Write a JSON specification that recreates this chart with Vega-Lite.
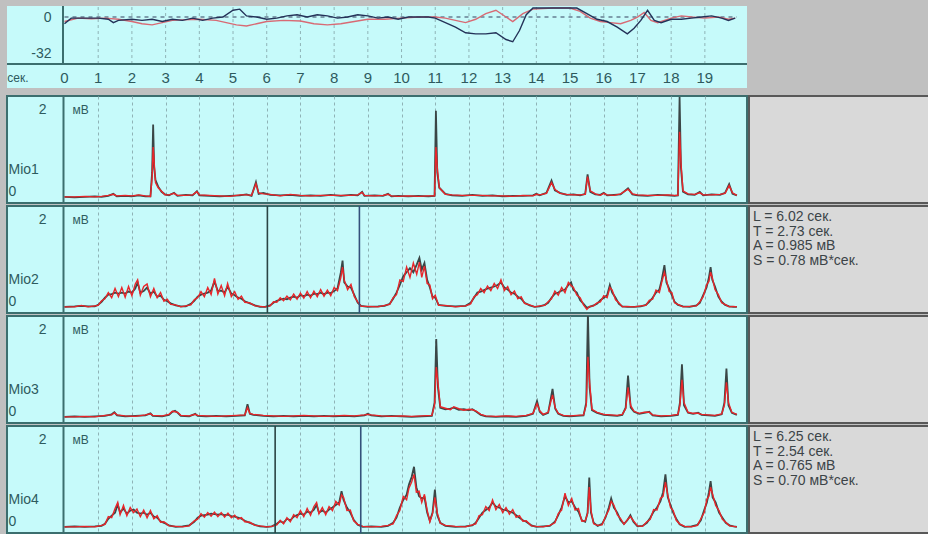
{
  "$schema": "https://vega.github.io/schema/vega-lite/v6.json",
  "background": "#c0c0c0",
  "padding": {"left": 6, "top": 5, "right": 0, "bottom": 2},
  "spacing": 7,
  "config": {
    "view": {"stroke": null},
    "axis": {"labelFont": "Liberation Sans Narrow, Liberation Sans, Arial, sans-serif", "titleFont": "Liberation Sans Narrow, Liberation Sans, Arial, sans-serif", "labelOverlap": false}
  },
  "datasets": {
    "sec": [{"s":1},{"s":2},{"s":3},{"s":4},{"s":5},{"s":6},{"s":7},{"s":8},{"s":9},{"s":10},{"s":11},{"s":12},{"s":13},{"s":14},{"s":15},{"s":16},{"s":17},{"s":18},{"s":19}],
    "ticklab": [{"s":0},{"s":1},{"s":2},{"s":3},{"s":4},{"s":5},{"s":6},{"s":7},{"s":8},{"s":9},{"s":10},{"s":11},{"s":12},{"s":13},{"s":14},{"s":15},{"s":16},{"s":17},{"s":18},{"s":19}],
    "ta": [{"t":0,"v":-4},{"t":0.4,"v":-1},{"t":0.8,"v":-1.5},{"t":1.2,"v":-1},{"t":1.6,"v":-2},{"t":2.0,"v":-4},{"t":2.3,"v":-6},{"t":2.6,"v":-7},{"t":2.9,"v":-5},{"t":3.2,"v":-3},{"t":3.5,"v":-2.5},{"t":4.0,"v":-2},{"t":4.5,"v":-3},{"t":4.8,"v":-5},{"t":5.1,"v":-7},{"t":5.4,"v":-8},{"t":5.7,"v":-6},{"t":6.0,"v":-4},{"t":6.5,"v":-3},{"t":7.0,"v":-3.5},{"t":7.4,"v":-6},{"t":7.8,"v":-7},{"t":8.2,"v":-6},{"t":8.6,"v":-4},{"t":9.0,"v":-2},{"t":9.5,"v":-2},{"t":10.0,"v":-1},{"t":10.5,"v":0},{"t":11.0,"v":0},{"t":11.3,"v":-1},{"t":11.6,"v":-3},{"t":11.9,"v":-5},{"t":12.2,"v":-2},{"t":12.5,"v":3},{"t":12.8,"v":6},{"t":13.1,"v":0},{"t":13.3,"v":-4},{"t":13.6,"v":3},{"t":13.9,"v":7},{"t":14.5,"v":8},{"t":15.0,"v":8},{"t":15.3,"v":5},{"t":15.6,"v":-1},{"t":15.9,"v":-4},{"t":16.2,"v":-5},{"t":16.5,"v":-6},{"t":16.8,"v":-3},{"t":17.0,"v":0},{"t":17.2,"v":4},{"t":17.4,"v":-3},{"t":17.6,"v":-5},{"t":18.0,"v":-1},{"t":18.3,"v":1},{"t":18.6,"v":0},{"t":19.0,"v":-1},{"t":19.4,"v":0},{"t":19.7,"v":-2},{"t":19.9,"v":-1}],
    "tb": [{"t":0,"v":-6},{"t":0.2,"v":-1},{"t":0.5,"v":-1},{"t":1.0,"v":-1},{"t":1.3,"v":-2},{"t":1.45,"v":-5},{"t":1.6,"v":-3},{"t":2.0,"v":-2},{"t":2.3,"v":-3},{"t":2.6,"v":-2},{"t":2.9,"v":-4},{"t":3.2,"v":-2},{"t":3.5,"v":-3},{"t":3.8,"v":-1},{"t":4.1,"v":-3},{"t":4.4,"v":-1},{"t":4.7,"v":0},{"t":5.0,"v":6},{"t":5.2,"v":7},{"t":5.4,"v":1},{"t":5.7,"v":0},{"t":6.0,"v":-2},{"t":6.3,"v":-1},{"t":6.6,"v":1},{"t":6.9,"v":2},{"t":7.2,"v":0},{"t":7.5,"v":2},{"t":7.8,"v":1},{"t":8.1,"v":-1},{"t":8.4,"v":0},{"t":8.7,"v":2},{"t":9.0,"v":1},{"t":9.3,"v":-1},{"t":9.6,"v":0},{"t":9.9,"v":-2},{"t":10.2,"v":0},{"t":10.5,"v":0},{"t":10.8,"v":0},{"t":11.0,"v":-1},{"t":11.3,"v":-5},{"t":11.6,"v":-9},{"t":11.9,"v":-14},{"t":12.2,"v":-15},{"t":12.5,"v":-15},{"t":12.8,"v":-14},{"t":13.1,"v":-20},{"t":13.3,"v":-22},{"t":13.5,"v":-12},{"t":13.7,"v":2},{"t":13.9,"v":8},{"t":14.3,"v":8},{"t":14.8,"v":8},{"t":15.2,"v":8},{"t":15.5,"v":3},{"t":15.8,"v":-2},{"t":16.1,"v":-4},{"t":16.4,"v":-9},{"t":16.7,"v":-15},{"t":16.9,"v":-10},{"t":17.1,"v":-3},{"t":17.3,"v":6},{"t":17.5,"v":-3},{"t":17.7,"v":-5},{"t":18.0,"v":-2},{"t":18.3,"v":-2},{"t":18.6,"v":-1},{"t":18.9,"v":0},{"t":19.2,"v":1},{"t":19.5,"v":-1},{"t":19.7,"v":-3},{"t":19.9,"v":-1}],
    "m1": [{"t":0,"k":0.02,"r":0.02},{"t":0.3,"k":0.01,"r":0.02},{"t":0.6,"k":0.02,"r":0.03},{"t":0.9,"k":0.03,"r":0.02},{"t":1.1,"k":0.02,"r":0.03},{"t":1.3,"k":0.04,"r":0.05},{"t":1.45,"k":0.08,"r":0.07},{"t":1.55,"k":0.03,"r":0.04},{"t":1.8,"k":0.04,"r":0.05},{"t":2.0,"k":0.03,"r":0.04},{"t":2.2,"k":0.05,"r":0.06},{"t":2.4,"k":0.03,"r":0.04},{"t":2.55,"k":0.03,"r":0.03},{"t":2.6,"k":0.5,"r":0.4},{"t":2.63,"k":1.44,"r":1.0},{"t":2.66,"k":0.6,"r":0.7},{"t":2.7,"k":0.35,"r":0.3},{"t":2.78,"k":0.22,"r":0.2},{"t":2.88,"k":0.12,"r":0.13},{"t":2.98,"k":0.07,"r":0.06},{"t":3.1,"k":0.05,"r":0.06},{"t":3.25,"k":0.1,"r":0.09},{"t":3.35,"k":0.04,"r":0.05},{"t":3.6,"k":0.06,"r":0.05},{"t":3.8,"k":0.05,"r":0.06},{"t":3.93,"k":0.13,"r":0.12},{"t":4.0,"k":0.05,"r":0.06},{"t":4.3,"k":0.04,"r":0.05},{"t":4.6,"k":0.03,"r":0.04},{"t":4.9,"k":0.04,"r":0.03},{"t":5.2,"k":0.05,"r":0.06},{"t":5.4,"k":0.07,"r":0.06},{"t":5.55,"k":0.04,"r":0.05},{"t":5.68,"k":0.31,"r":0.28},{"t":5.76,"k":0.08,"r":0.1},{"t":5.9,"k":0.1,"r":0.08},{"t":6.1,"k":0.06,"r":0.07},{"t":6.4,"k":0.05,"r":0.04},{"t":6.7,"k":0.06,"r":0.07},{"t":7.0,"k":0.04,"r":0.05},{"t":7.3,"k":0.05,"r":0.04},{"t":7.6,"k":0.04,"r":0.05},{"t":7.9,"k":0.06,"r":0.05},{"t":8.2,"k":0.04,"r":0.05},{"t":8.5,"k":0.06,"r":0.05},{"t":8.7,"k":0.05,"r":0.06},{"t":8.83,"k":0.12,"r":0.11},{"t":8.9,"k":0.04,"r":0.05},{"t":9.2,"k":0.05,"r":0.04},{"t":9.45,"k":0.04,"r":0.05},{"t":9.6,"k":0.08,"r":0.07},{"t":9.7,"k":0.03,"r":0.04},{"t":9.9,"k":0.04,"r":0.03},{"t":10.2,"k":0.03,"r":0.04},{"t":10.5,"k":0.04,"r":0.03},{"t":10.8,"k":0.03,"r":0.04},{"t":10.98,"k":0.04,"r":0.04},{"t":11.02,"k":1.71,"r":1.0},{"t":11.06,"k":0.5,"r":0.6},{"t":11.12,"k":0.2,"r":0.2},{"t":11.3,"k":0.08,"r":0.07},{"t":11.5,"k":0.05,"r":0.06},{"t":11.8,"k":0.04,"r":0.05},{"t":12.1,"k":0.06,"r":0.05},{"t":12.4,"k":0.04,"r":0.05},{"t":12.7,"k":0.05,"r":0.04},{"t":13.0,"k":0.03,"r":0.04},{"t":13.3,"k":0.04,"r":0.03},{"t":13.6,"k":0.04,"r":0.05},{"t":13.9,"k":0.05,"r":0.04},{"t":14.0,"k":0.08,"r":0.07},{"t":14.1,"k":0.05,"r":0.06},{"t":14.3,"k":0.1,"r":0.09},{"t":14.45,"k":0.34,"r":0.3},{"t":14.55,"k":0.15,"r":0.17},{"t":14.7,"k":0.1,"r":0.09},{"t":14.9,"k":0.06,"r":0.07},{"t":15.1,"k":0.07,"r":0.06},{"t":15.3,"k":0.05,"r":0.06},{"t":15.45,"k":0.08,"r":0.07},{"t":15.52,"k":0.46,"r":0.42},{"t":15.6,"k":0.12,"r":0.14},{"t":15.75,"k":0.07,"r":0.08},{"t":15.9,"k":0.06,"r":0.05},{"t":16.0,"k":0.1,"r":0.09},{"t":16.1,"k":0.05,"r":0.06},{"t":16.3,"k":0.06,"r":0.05},{"t":16.5,"k":0.07,"r":0.08},{"t":16.72,"k":0.19,"r":0.17},{"t":16.85,"k":0.07,"r":0.08},{"t":17.0,"k":0.05,"r":0.06},{"t":17.3,"k":0.04,"r":0.05},{"t":17.6,"k":0.06,"r":0.05},{"t":17.9,"k":0.05,"r":0.06},{"t":18.1,"k":0.04,"r":0.05},{"t":18.2,"k":0.05,"r":0.05},{"t":18.25,"k":1.98,"r":1.3},{"t":18.29,"k":0.6,"r":0.7},{"t":18.35,"k":0.12,"r":0.14},{"t":18.5,"k":0.07,"r":0.08},{"t":18.7,"k":0.06,"r":0.07},{"t":18.85,"k":0.12,"r":0.1},{"t":18.95,"k":0.05,"r":0.06},{"t":19.2,"k":0.07,"r":0.06},{"t":19.45,"k":0.06,"r":0.07},{"t":19.6,"k":0.1,"r":0.09},{"t":19.72,"k":0.27,"r":0.24},{"t":19.82,"k":0.08,"r":0.1},{"t":19.95,"k":0.05,"r":0.05}],
    "m2": [{"t":0,"k":0.02,"r":0.02},{"t":0.3,"k":0.03,"r":0.02},{"t":0.5,"k":0.04,"r":0.05},{"t":0.7,"k":0.03,"r":0.02},{"t":0.9,"k":0.03,"r":0.04},{"t":1.0,"k":0.06,"r":0.05},{"t":1.1,"k":0.12,"r":0.14},{"t":1.2,"k":0.2,"r":0.18},{"t":1.3,"k":0.26,"r":0.3},{"t":1.4,"k":0.27,"r":0.2},{"t":1.5,"k":0.3,"r":0.38},{"t":1.6,"k":0.28,"r":0.22},{"t":1.7,"k":0.3,"r":0.4},{"t":1.8,"k":0.28,"r":0.21},{"t":1.9,"k":0.32,"r":0.42},{"t":2.0,"k":0.3,"r":0.24},{"t":2.1,"k":0.38,"r":0.47},{"t":2.17,"k":0.5,"r":0.55},{"t":2.25,"k":0.3,"r":0.25},{"t":2.35,"k":0.33,"r":0.42},{"t":2.45,"k":0.4,"r":0.47},{"t":2.55,"k":0.28,"r":0.22},{"t":2.65,"k":0.32,"r":0.38},{"t":2.75,"k":0.22,"r":0.2},{"t":2.85,"k":0.24,"r":0.3},{"t":2.95,"k":0.16,"r":0.13},{"t":3.05,"k":0.13,"r":0.17},{"t":3.15,"k":0.09,"r":0.07},{"t":3.3,"k":0.05,"r":0.06},{"t":3.45,"k":0.03,"r":0.02},{"t":3.6,"k":0.03,"r":0.04},{"t":3.75,"k":0.08,"r":0.06},{"t":3.85,"k":0.14,"r":0.16},{"t":3.95,"k":0.22,"r":0.2},{"t":4.05,"k":0.26,"r":0.32},{"t":4.15,"k":0.28,"r":0.22},{"t":4.25,"k":0.3,"r":0.4},{"t":4.35,"k":0.34,"r":0.26},{"t":4.45,"k":0.52,"r":0.58},{"t":4.55,"k":0.33,"r":0.27},{"t":4.65,"k":0.34,"r":0.44},{"t":4.75,"k":0.3,"r":0.24},{"t":4.84,"k":0.42,"r":0.48},{"t":4.95,"k":0.28,"r":0.22},{"t":5.05,"k":0.25,"r":0.32},{"t":5.15,"k":0.2,"r":0.17},{"t":5.25,"k":0.18,"r":0.23},{"t":5.35,"k":0.13,"r":0.11},{"t":5.5,"k":0.09,"r":0.1},{"t":5.65,"k":0.05,"r":0.04},{"t":5.8,"k":0.02,"r":0.03},{"t":5.95,"k":0.02,"r":0.02},{"t":6.1,"k":0.05,"r":0.04},{"t":6.2,"k":0.1,"r":0.12},{"t":6.3,"k":0.14,"r":0.11},{"t":6.4,"k":0.16,"r":0.2},{"t":6.5,"k":0.18,"r":0.14},{"t":6.6,"k":0.17,"r":0.23},{"t":6.7,"k":0.2,"r":0.16},{"t":6.8,"k":0.22,"r":0.27},{"t":6.9,"k":0.2,"r":0.17},{"t":7.0,"k":0.25,"r":0.29},{"t":7.1,"k":0.23,"r":0.19},{"t":7.2,"k":0.26,"r":0.32},{"t":7.3,"k":0.24,"r":0.2},{"t":7.4,"k":0.28,"r":0.33},{"t":7.5,"k":0.27,"r":0.22},{"t":7.6,"k":0.3,"r":0.36},{"t":7.7,"k":0.27,"r":0.23},{"t":7.8,"k":0.3,"r":0.35},{"t":7.9,"k":0.29,"r":0.24},{"t":8.0,"k":0.33,"r":0.4},{"t":8.1,"k":0.38,"r":0.34},{"t":8.2,"k":0.7,"r":0.6},{"t":8.25,"k":0.93,"r":0.8},{"t":8.3,"k":0.5,"r":0.55},{"t":8.4,"k":0.42,"r":0.36},{"t":8.5,"k":0.4,"r":0.46},{"t":8.6,"k":0.25,"r":0.22},{"t":8.7,"k":0.1,"r":0.12},{"t":8.8,"k":0.04,"r":0.03},{"t":9.0,"k":0.02,"r":0.03},{"t":9.3,"k":0.03,"r":0.02},{"t":9.5,"k":0.04,"r":0.05},{"t":9.65,"k":0.08,"r":0.07},{"t":9.75,"k":0.18,"r":0.2},{"t":9.85,"k":0.3,"r":0.26},{"t":9.95,"k":0.45,"r":0.55},{"t":10.05,"k":0.62,"r":0.52},{"t":10.15,"k":0.7,"r":0.8},{"t":10.25,"k":0.78,"r":0.6},{"t":10.35,"k":0.7,"r":0.88},{"t":10.45,"k":0.85,"r":0.66},{"t":10.53,"k":0.98,"r":0.9},{"t":10.6,"k":0.75,"r":0.6},{"t":10.68,"k":0.88,"r":0.82},{"t":10.76,"k":0.55,"r":0.48},{"t":10.84,"k":0.4,"r":0.45},{"t":10.92,"k":0.22,"r":0.18},{"t":11.0,"k":0.2,"r":0.25},{"t":11.1,"k":0.06,"r":0.05},{"t":11.3,"k":0.04,"r":0.05},{"t":11.6,"k":0.03,"r":0.02},{"t":11.9,"k":0.04,"r":0.04},{"t":12.05,"k":0.1,"r":0.08},{"t":12.15,"k":0.2,"r":0.22},{"t":12.25,"k":0.3,"r":0.26},{"t":12.35,"k":0.32,"r":0.38},{"t":12.45,"k":0.35,"r":0.3},{"t":12.55,"k":0.38,"r":0.43},{"t":12.65,"k":0.4,"r":0.34},{"t":12.75,"k":0.42,"r":0.48},{"t":12.85,"k":0.45,"r":0.38},{"t":12.95,"k":0.5,"r":0.55},{"t":13.05,"k":0.4,"r":0.34},{"t":13.15,"k":0.36,"r":0.42},{"t":13.25,"k":0.3,"r":0.26},{"t":13.35,"k":0.28,"r":0.33},{"t":13.45,"k":0.22,"r":0.18},{"t":13.55,"k":0.18,"r":0.22},{"t":13.65,"k":0.1,"r":0.09},{"t":13.8,"k":0.05,"r":0.06},{"t":13.95,"k":0.02,"r":0.02},{"t":14.1,"k":0.03,"r":0.04},{"t":14.25,"k":0.06,"r":0.05},{"t":14.35,"k":0.1,"r":0.12},{"t":14.45,"k":0.2,"r":0.18},{"t":14.55,"k":0.28,"r":0.33},{"t":14.65,"k":0.3,"r":0.25},{"t":14.75,"k":0.34,"r":0.4},{"t":14.85,"k":0.36,"r":0.3},{"t":14.95,"k":0.45,"r":0.5},{"t":15.03,"k":0.5,"r":0.44},{"t":15.1,"k":0.35,"r":0.4},{"t":15.2,"k":0.3,"r":0.25},{"t":15.3,"k":0.15,"r":0.2},{"t":15.4,"k":0.08,"r":0.06},{"t":15.5,"k":0.0,"r":-0.03},{"t":15.58,"k":0.02,"r":0.03},{"t":15.7,"k":0.05,"r":0.04},{"t":15.8,"k":0.08,"r":0.1},{"t":15.9,"k":0.15,"r":0.12},{"t":16.0,"k":0.2,"r":0.24},{"t":16.1,"k":0.25,"r":0.2},{"t":16.18,"k":0.45,"r":0.4},{"t":16.25,"k":0.3,"r":0.35},{"t":16.35,"k":0.2,"r":0.16},{"t":16.45,"k":0.08,"r":0.1},{"t":16.55,"k":0.03,"r":0.02},{"t":16.7,"k":0.02,"r":0.03},{"t":16.9,"k":0.02,"r":0.02},{"t":17.1,"k":0.03,"r":0.04},{"t":17.25,"k":0.06,"r":0.05},{"t":17.35,"k":0.12,"r":0.15},{"t":17.45,"k":0.2,"r":0.17},{"t":17.55,"k":0.3,"r":0.35},{"t":17.65,"k":0.36,"r":0.3},{"t":17.72,"k":0.55,"r":0.5},{"t":17.8,"k":0.84,"r":0.7},{"t":17.86,"k":0.5,"r":0.55},{"t":17.94,"k":0.38,"r":0.32},{"t":18.02,"k":0.25,"r":0.3},{"t":18.1,"k":0.12,"r":0.1},{"t":18.2,"k":0.06,"r":0.07},{"t":18.35,"k":0.03,"r":0.02},{"t":18.55,"k":0.02,"r":0.03},{"t":18.75,"k":0.05,"r":0.04},{"t":18.85,"k":0.1,"r":0.12},{"t":18.95,"k":0.25,"r":0.22},{"t":19.05,"k":0.4,"r":0.45},{"t":19.12,"k":0.6,"r":0.52},{"t":19.17,"k":0.8,"r":0.7},{"t":19.22,"k":0.55,"r":0.6},{"t":19.3,"k":0.42,"r":0.36},{"t":19.4,"k":0.22,"r":0.26},{"t":19.5,"k":0.12,"r":0.1},{"t":19.6,"k":0.06,"r":0.07},{"t":19.72,"k":0.03,"r":0.02},{"t":19.85,"k":0.02,"r":0.03},{"t":19.95,"k":0.02,"r":0.02}],
    "m3": [{"t":0,"k":0.02,"r":0.02},{"t":0.3,"k":0.03,"r":0.02},{"t":0.6,"k":0.02,"r":0.03},{"t":0.9,"k":0.03,"r":0.02},{"t":1.2,"k":0.04,"r":0.05},{"t":1.4,"k":0.07,"r":0.06},{"t":1.48,"k":0.11,"r":0.1},{"t":1.56,"k":0.05,"r":0.06},{"t":1.8,"k":0.03,"r":0.04},{"t":2.1,"k":0.04,"r":0.03},{"t":2.4,"k":0.05,"r":0.06},{"t":2.55,"k":0.09,"r":0.08},{"t":2.62,"k":0.04,"r":0.05},{"t":2.9,"k":0.03,"r":0.04},{"t":3.1,"k":0.06,"r":0.07},{"t":3.2,"k":0.12,"r":0.13},{"t":3.28,"k":0.14,"r":0.12},{"t":3.36,"k":0.1,"r":0.11},{"t":3.45,"k":0.04,"r":0.05},{"t":3.7,"k":0.03,"r":0.04},{"t":3.88,"k":0.08,"r":0.07},{"t":3.95,"k":0.04,"r":0.05},{"t":4.2,"k":0.03,"r":0.04},{"t":4.5,"k":0.04,"r":0.03},{"t":4.8,"k":0.03,"r":0.04},{"t":5.1,"k":0.04,"r":0.05},{"t":5.35,"k":0.05,"r":0.06},{"t":5.43,"k":0.27,"r":0.2},{"t":5.5,"k":0.08,"r":0.09},{"t":5.6,"k":0.06,"r":0.07},{"t":5.9,"k":0.04,"r":0.05},{"t":6.2,"k":0.03,"r":0.04},{"t":6.5,"k":0.04,"r":0.03},{"t":6.8,"k":0.03,"r":0.04},{"t":7.1,"k":0.04,"r":0.05},{"t":7.4,"k":0.03,"r":0.04},{"t":7.7,"k":0.04,"r":0.03},{"t":8.0,"k":0.03,"r":0.04},{"t":8.3,"k":0.04,"r":0.05},{"t":8.6,"k":0.03,"r":0.04},{"t":8.9,"k":0.05,"r":0.06},{"t":9.0,"k":0.08,"r":0.07},{"t":9.1,"k":0.05,"r":0.06},{"t":9.4,"k":0.03,"r":0.04},{"t":9.7,"k":0.04,"r":0.03},{"t":10.0,"k":0.03,"r":0.04},{"t":10.3,"k":0.02,"r":0.03},{"t":10.6,"k":0.03,"r":0.04},{"t":10.9,"k":0.04,"r":0.05},{"t":10.98,"k":0.3,"r":0.25},{"t":11.03,"k":1.55,"r":1.0},{"t":11.08,"k":0.6,"r":0.7},{"t":11.15,"k":0.2,"r":0.22},{"t":11.3,"k":0.17,"r":0.19},{"t":11.45,"k":0.18,"r":0.16},{"t":11.55,"k":0.2,"r":0.22},{"t":11.7,"k":0.16,"r":0.18},{"t":11.85,"k":0.17,"r":0.15},{"t":12.0,"k":0.15,"r":0.17},{"t":12.1,"k":0.17,"r":0.16},{"t":12.2,"k":0.13,"r":0.14},{"t":12.35,"k":0.06,"r":0.07},{"t":12.5,"k":0.03,"r":0.04},{"t":12.8,"k":0.02,"r":0.03},{"t":13.1,"k":0.03,"r":0.04},{"t":13.4,"k":0.02,"r":0.03},{"t":13.7,"k":0.04,"r":0.05},{"t":13.9,"k":0.08,"r":0.09},{"t":14.02,"k":0.33,"r":0.28},{"t":14.1,"k":0.12,"r":0.14},{"t":14.2,"k":0.06,"r":0.07},{"t":14.35,"k":0.1,"r":0.11},{"t":14.48,"k":0.57,"r":0.45},{"t":14.56,"k":0.18,"r":0.2},{"t":14.65,"k":0.08,"r":0.09},{"t":14.8,"k":0.04,"r":0.05},{"t":15.0,"k":0.03,"r":0.04},{"t":15.2,"k":0.04,"r":0.05},{"t":15.4,"k":0.05,"r":0.06},{"t":15.48,"k":0.3,"r":0.25},{"t":15.53,"k":2.05,"r":1.2},{"t":15.58,"k":0.6,"r":0.7},{"t":15.65,"k":0.15,"r":0.17},{"t":15.8,"k":0.1,"r":0.11},{"t":16.0,"k":0.06,"r":0.07},{"t":16.2,"k":0.05,"r":0.06},{"t":16.4,"k":0.04,"r":0.05},{"t":16.55,"k":0.06,"r":0.07},{"t":16.65,"k":0.2,"r":0.18},{"t":16.72,"k":0.83,"r":0.6},{"t":16.8,"k":0.2,"r":0.24},{"t":16.9,"k":0.12,"r":0.13},{"t":17.05,"k":0.08,"r":0.09},{"t":17.2,"k":0.1,"r":0.11},{"t":17.35,"k":0.12,"r":0.11},{"t":17.45,"k":0.05,"r":0.06},{"t":17.7,"k":0.03,"r":0.04},{"t":18.0,"k":0.04,"r":0.05},{"t":18.2,"k":0.06,"r":0.07},{"t":18.26,"k":0.3,"r":0.25},{"t":18.32,"k":1.05,"r":0.75},{"t":18.38,"k":0.25,"r":0.3},{"t":18.5,"k":0.1,"r":0.11},{"t":18.65,"k":0.08,"r":0.09},{"t":18.8,"k":0.1,"r":0.09},{"t":18.9,"k":0.06,"r":0.07},{"t":19.1,"k":0.05,"r":0.06},{"t":19.3,"k":0.04,"r":0.05},{"t":19.5,"k":0.07,"r":0.08},{"t":19.58,"k":0.3,"r":0.25},{"t":19.64,"k":0.97,"r":0.7},{"t":19.7,"k":0.25,"r":0.3},{"t":19.8,"k":0.1,"r":0.11},{"t":19.95,"k":0.06,"r":0.07}],
    "m4": [{"t":0,"k":0.02,"r":0.02},{"t":0.3,"k":0.03,"r":0.02},{"t":0.6,"k":0.02,"r":0.03},{"t":0.9,"k":0.03,"r":0.02},{"t":1.1,"k":0.04,"r":0.05},{"t":1.2,"k":0.08,"r":0.07},{"t":1.3,"k":0.18,"r":0.22},{"t":1.4,"k":0.24,"r":0.2},{"t":1.5,"k":0.3,"r":0.38},{"t":1.58,"k":0.46,"r":0.5},{"t":1.65,"k":0.3,"r":0.26},{"t":1.75,"k":0.38,"r":0.44},{"t":1.85,"k":0.28,"r":0.24},{"t":1.95,"k":0.34,"r":0.4},{"t":2.05,"k":0.36,"r":0.3},{"t":2.15,"k":0.3,"r":0.37},{"t":2.25,"k":0.28,"r":0.22},{"t":2.35,"k":0.3,"r":0.35},{"t":2.45,"k":0.26,"r":0.2},{"t":2.55,"k":0.3,"r":0.34},{"t":2.65,"k":0.22,"r":0.18},{"t":2.75,"k":0.2,"r":0.24},{"t":2.85,"k":0.13,"r":0.11},{"t":2.95,"k":0.1,"r":0.12},{"t":3.1,"k":0.05,"r":0.04},{"t":3.3,"k":0.02,"r":0.03},{"t":3.5,"k":0.03,"r":0.02},{"t":3.7,"k":0.05,"r":0.04},{"t":3.85,"k":0.12,"r":0.14},{"t":3.95,"k":0.2,"r":0.17},{"t":4.05,"k":0.24,"r":0.28},{"t":4.15,"k":0.25,"r":0.21},{"t":4.25,"k":0.26,"r":0.3},{"t":4.35,"k":0.28,"r":0.23},{"t":4.45,"k":0.27,"r":0.31},{"t":4.55,"k":0.26,"r":0.22},{"t":4.65,"k":0.27,"r":0.3},{"t":4.75,"k":0.25,"r":0.21},{"t":4.85,"k":0.26,"r":0.29},{"t":4.95,"k":0.23,"r":0.2},{"t":5.05,"k":0.22,"r":0.25},{"t":5.15,"k":0.2,"r":0.17},{"t":5.25,"k":0.18,"r":0.2},{"t":5.35,"k":0.14,"r":0.12},{"t":5.5,"k":0.1,"r":0.11},{"t":5.65,"k":0.06,"r":0.05},{"t":5.8,"k":0.03,"r":0.04},{"t":6.0,"k":0.02,"r":0.02},{"t":6.15,"k":0.03,"r":0.03},{"t":6.3,"k":0.08,"r":0.06},{"t":6.4,"k":0.13,"r":0.15},{"t":6.5,"k":0.1,"r":0.08},{"t":6.6,"k":0.18,"r":0.2},{"t":6.7,"k":0.15,"r":0.12},{"t":6.8,"k":0.22,"r":0.26},{"t":6.9,"k":0.25,"r":0.2},{"t":7.0,"k":0.28,"r":0.34},{"t":7.1,"k":0.26,"r":0.22},{"t":7.2,"k":0.32,"r":0.38},{"t":7.3,"k":0.3,"r":0.25},{"t":7.4,"k":0.36,"r":0.42},{"t":7.48,"k":0.45,"r":0.5},{"t":7.55,"k":0.3,"r":0.28},{"t":7.65,"k":0.34,"r":0.4},{"t":7.75,"k":0.3,"r":0.26},{"t":7.85,"k":0.36,"r":0.42},{"t":7.95,"k":0.4,"r":0.34},{"t":8.05,"k":0.45,"r":0.52},{"t":8.15,"k":0.5,"r":0.45},{"t":8.22,"k":0.72,"r":0.65},{"t":8.28,"k":0.55,"r":0.6},{"t":8.38,"k":0.4,"r":0.34},{"t":8.48,"k":0.3,"r":0.35},{"t":8.58,"k":0.16,"r":0.14},{"t":8.7,"k":0.06,"r":0.07},{"t":8.85,"k":0.02,"r":0.03},{"t":9.1,"k":0.03,"r":0.02},{"t":9.4,"k":0.02,"r":0.03},{"t":9.6,"k":0.04,"r":0.05},{"t":9.75,"k":0.1,"r":0.08},{"t":9.85,"k":0.2,"r":0.24},{"t":9.95,"k":0.4,"r":0.34},{"t":10.05,"k":0.55,"r":0.62},{"t":10.15,"k":0.65,"r":0.55},{"t":10.22,"k":0.85,"r":0.78},{"t":10.3,"k":1.0,"r":0.9},{"t":10.37,"k":1.2,"r":1.05},{"t":10.44,"k":0.8,"r":0.7},{"t":10.52,"k":0.62,"r":0.72},{"t":10.6,"k":0.58,"r":0.5},{"t":10.68,"k":0.6,"r":0.66},{"t":10.76,"k":0.3,"r":0.35},{"t":10.84,"k":0.14,"r":0.12},{"t":10.92,"k":0.3,"r":0.28},{"t":10.99,"k":0.75,"r":0.6},{"t":11.06,"k":0.25,"r":0.3},{"t":11.15,"k":0.1,"r":0.09},{"t":11.3,"k":0.04,"r":0.05},{"t":11.6,"k":0.02,"r":0.03},{"t":11.9,"k":0.03,"r":0.02},{"t":12.1,"k":0.05,"r":0.06},{"t":12.2,"k":0.1,"r":0.08},{"t":12.3,"k":0.2,"r":0.24},{"t":12.4,"k":0.3,"r":0.26},{"t":12.5,"k":0.35,"r":0.42},{"t":12.6,"k":0.4,"r":0.34},{"t":12.7,"k":0.5,"r":0.55},{"t":12.8,"k":0.42,"r":0.36},{"t":12.9,"k":0.4,"r":0.46},{"t":13.0,"k":0.36,"r":0.3},{"t":13.1,"k":0.35,"r":0.4},{"t":13.2,"k":0.32,"r":0.27},{"t":13.3,"k":0.3,"r":0.36},{"t":13.4,"k":0.25,"r":0.21},{"t":13.5,"k":0.2,"r":0.24},{"t":13.6,"k":0.15,"r":0.13},{"t":13.7,"k":0.12,"r":0.14},{"t":13.85,"k":0.05,"r":0.04},{"t":14.0,"k":0.02,"r":0.03},{"t":14.2,"k":0.03,"r":0.02},{"t":14.4,"k":0.04,"r":0.05},{"t":14.55,"k":0.12,"r":0.1},{"t":14.65,"k":0.25,"r":0.28},{"t":14.75,"k":0.4,"r":0.35},{"t":14.85,"k":0.62,"r":0.68},{"t":14.95,"k":0.5,"r":0.44},{"t":15.05,"k":0.52,"r":0.58},{"t":15.15,"k":0.4,"r":0.35},{"t":15.25,"k":0.32,"r":0.38},{"t":15.35,"k":0.15,"r":0.13},{"t":15.45,"k":0.12,"r":0.14},{"t":15.52,"k":0.3,"r":0.28},{"t":15.57,"k":0.99,"r":0.8},{"t":15.62,"k":0.3,"r":0.35},{"t":15.7,"k":0.1,"r":0.08},{"t":15.82,"k":0.04,"r":0.05},{"t":15.95,"k":0.08,"r":0.06},{"t":16.05,"k":0.2,"r":0.22},{"t":16.15,"k":0.4,"r":0.35},{"t":16.22,"k":0.58,"r":0.52},{"t":16.3,"k":0.4,"r":0.45},{"t":16.4,"k":0.3,"r":0.26},{"t":16.5,"k":0.15,"r":0.18},{"t":16.6,"k":0.08,"r":0.07},{"t":16.7,"k":0.15,"r":0.16},{"t":16.79,"k":0.25,"r":0.22},{"t":16.88,"k":0.12,"r":0.14},{"t":17.0,"k":0.03,"r":0.04},{"t":17.15,"k":0.04,"r":0.03},{"t":17.28,"k":0.1,"r":0.12},{"t":17.38,"k":0.2,"r":0.17},{"t":17.48,"k":0.32,"r":0.36},{"t":17.58,"k":0.4,"r":0.35},{"t":17.68,"k":0.52,"r":0.58},{"t":17.76,"k":0.7,"r":0.62},{"t":17.83,"k":1.05,"r":0.9},{"t":17.9,"k":0.6,"r":0.65},{"t":17.98,"k":0.45,"r":0.4},{"t":18.06,"k":0.3,"r":0.34},{"t":18.15,"k":0.18,"r":0.15},{"t":18.25,"k":0.07,"r":0.08},{"t":18.4,"k":0.02,"r":0.03},{"t":18.6,"k":0.03,"r":0.02},{"t":18.78,"k":0.06,"r":0.05},{"t":18.88,"k":0.15,"r":0.18},{"t":18.98,"k":0.35,"r":0.3},{"t":19.06,"k":0.5,"r":0.56},{"t":19.12,"k":0.7,"r":0.62},{"t":19.17,"k":0.92,"r":0.8},{"t":19.23,"k":0.6,"r":0.66},{"t":19.32,"k":0.5,"r":0.44},{"t":19.42,"k":0.3,"r":0.34},{"t":19.52,"k":0.2,"r":0.17},{"t":19.62,"k":0.1,"r":0.11},{"t":19.73,"k":0.05,"r":0.04},{"t":19.85,"k":0.03,"r":0.03},{"t":19.95,"k":0.02,"r":0.02}]
  },
  "vconcat": [
    {
      "width": 740,
      "height": 82,
      "view": {"fill": "#c6fafa", "stroke": null},
      "layer": [
        {
          "data": {"name": "sec"},
          "mark": {"type": "rule", "color": "#8fb3b6", "strokeDash": [3, 3], "strokeWidth": 1},
          "encoding": {
            "x": {"field": "s", "type": "quantitative", "scale": {"domain": [-1.706, 20.25], "nice": false, "zero": false}, "axis": null},
            "y": {"datum": -41.8, "type": "quantitative", "scale": {"domain": [-63.1, 9.8], "nice": false, "zero": false}},
            "y2": {"datum": 9.8}
          }
        },
        {
          "data": {"values": [{}]},
          "mark": {"type": "rule", "color": "#3c6e6e", "strokeWidth": 2},
          "encoding": {"x": {"datum": -0.045, "type": "quantitative", "axis": null}, "y": {"datum": -41.8, "type": "quantitative"}, "y2": {"datum": 9.8}}
        },
        {
          "data": {"values": [{}]},
          "mark": {"type": "rule", "color": "#3c6e6e", "strokeWidth": 2},
          "encoding": {"y": {"datum": -41.8, "type": "quantitative"}}
        },
        {
          "data": {"values": [{}]},
          "mark": {"type": "rule", "color": "#34405e", "strokeDash": [4, 4], "strokeWidth": 1.2},
          "encoding": {"x": {"datum": 0, "type": "quantitative", "axis": null}, "x2": {"datum": 19.95}, "y": {"datum": 0, "type": "quantitative"}}
        },
        {
          "data": {"name": "ticklab"},
          "mark": {"type": "text", "align": "center", "baseline": "middle", "font": "Liberation Sans Narrow, Liberation Sans, Arial, sans-serif", "fontSize": 15, "color": "#2e5a5e"},
          "encoding": {"x": {"field": "s", "type": "quantitative", "axis": null}, "y": {"datum": -54.2, "type": "quantitative"}, "text": {"field": "s", "type": "quantitative"}}
        },
        {
          "data": {"values": [{"lab": "сек."}]},
          "mark": {"type": "text", "align": "center", "baseline": "middle", "font": "Liberation Sans Narrow, Liberation Sans, Arial, sans-serif", "fontSize": 12, "color": "#2e5a5e"},
          "encoding": {"x": {"datum": -1.38, "type": "quantitative", "axis": null}, "y": {"datum": -54.2, "type": "quantitative"}, "text": {"field": "lab"}}
        },
        {
          "data": {"name": "ta"},
          "mark": {"type": "line", "color": "#d86a74", "strokeWidth": 1.4, "clip": true},
          "encoding": {"x": {"field": "t", "type": "quantitative", "axis": null}, "y": {"field": "v", "type": "quantitative"}}
        },
        {
          "data": {"name": "tb"},
          "mark": {"type": "line", "color": "#243258", "strokeWidth": 1.4, "clip": true},
          "encoding": {
            "x": {"field": "t", "type": "quantitative", "axis": null},
            "y": {"field": "v", "type": "quantitative",
              "axis": {"offset": -56, "title": null, "values": [0, -32], "labelExpr": "datum.value < 0 ? '-' + abs(datum.value) : '' + datum.value",
                "domain": false, "ticks": false, "tickSize": 0, "grid": false, "labelAlign": "right", "labelPadding": 12, "labelBaseline": "middle",
                "labelFontSize": 14, "labelColor": "#2e5a5e", "labelOverlap": false}}
          }
        }
      ]
    },
    {
      "spacing": 0,
      "vconcat": [
        {
          "spacing": 2,
          "bounds": "flush",
          "hconcat": [
            {
              "width": 740, "height": 107,
              "view": {"fill": "#c6fafa", "stroke": "#3c6e6e", "strokeWidth": 2},
              "data": {"name": "m1"},
              "layer": [
                {
                  "mark": {"type": "line", "color": "#3a4646", "strokeWidth": 1.8, "clip": true},
                  "encoding": {
                    "x": {"field": "t", "type": "quantitative", "scale": {"domain": [-1.706, 20.25], "nice": false, "zero": false},
                      "axis": {"title": null, "values": [1,2,3,4,5,6,7,8,9,10,11,12,13,14,15,16,17,18,19], "grid": true, "gridColor": "#8fb3b6", "gridDash": [3, 3], "labels": false, "ticks": false, "domain": false}},
                    "y": {"field": "k", "type": "quantitative", "scale": {"domain": [-0.1, 2.0], "nice": false, "zero": false},
                      "axis": {"title": "мВ", "titleAngle": 0, "titleAlign": "left", "titleBaseline": "middle", "titleX": 9, "titleY": 13, "titleFontSize": 12, "titleFontWeight": "normal", "titleColor": "#2e5a5e",
                        "offset": -56, "domainColor": "#3c6e6e", "domainWidth": 2, "ticks": false, "tickSize": 0, "grid": false,
                        "values": [0.12, 0.56, 1.73], "labelExpr": "datum.value > 1 ? '2' : datum.value > 0.4 ? 'Mio1' : '0'",
                        "labelAlign": {"condition": {"test": "datum.value > 1", "value": "right"}, "value": "left"},
                        "labelPadding": {"condition": {"test": "datum.value > 1", "value": 17}, "value": 55},
                        "labelBaseline": "middle", "labelFontSize": 14, "labelColor": "#2e5a5e", "labelOverlap": false, "labelFlush": false}}
                  }
                },
                {
                  "mark": {"type": "line", "color": "#e8262a", "strokeWidth": 1.4, "clip": true},
                  "encoding": {"x": {"field": "t", "type": "quantitative"}, "y": {"field": "r", "type": "quantitative"}}
                }
              ]
            },
            {
              "width": 180, "height": 107,
              "view": {"fill": "#d9d9d9", "stroke": "#585858", "strokeWidth": 2},
              "data": {"values": []},
              "mark": "text"
            }
          ]
        },
        {
          "spacing": 2,
          "bounds": "flush",
          "hconcat": [
            {
              "width": 740, "height": 107,
              "view": {"fill": "#c6fafa", "stroke": "#3c6e6e", "strokeWidth": 2},
              "layer": [
                {
                  "data": {"name": "m2"},
                  "mark": {"type": "line", "color": "#3a4646", "strokeWidth": 1.8, "clip": true},
                  "encoding": {
                    "x": {"field": "t", "type": "quantitative", "scale": {"domain": [-1.706, 20.25], "nice": false, "zero": false},
                      "axis": {"title": null, "values": [1,2,3,4,5,6,7,8,9,10,11,12,13,14,15,16,17,18,19], "grid": true, "gridColor": "#8fb3b6", "gridDash": [3, 3], "labels": false, "ticks": false, "domain": false}},
                    "y": {"field": "k", "type": "quantitative", "scale": {"domain": [-0.1, 2.0], "nice": false, "zero": false},
                      "axis": {"title": "мВ", "titleAngle": 0, "titleAlign": "left", "titleBaseline": "middle", "titleX": 9, "titleY": 13, "titleFontSize": 12, "titleFontWeight": "normal", "titleColor": "#2e5a5e",
                        "offset": -56, "domainColor": "#3c6e6e", "domainWidth": 2, "ticks": false, "tickSize": 0, "grid": false,
                        "values": [0.12, 0.56, 1.73], "labelExpr": "datum.value > 1 ? '2' : datum.value > 0.4 ? 'Mio2' : '0'",
                        "labelAlign": {"condition": {"test": "datum.value > 1", "value": "right"}, "value": "left"},
                        "labelPadding": {"condition": {"test": "datum.value > 1", "value": 17}, "value": 55},
                        "labelBaseline": "middle", "labelFontSize": 14, "labelColor": "#2e5a5e", "labelOverlap": false, "labelFlush": false}}
                  }
                },
                {
                  "data": {"name": "m2"},
                  "mark": {"type": "line", "color": "#e8262a", "strokeWidth": 1.4, "clip": true},
                  "encoding": {"x": {"field": "t", "type": "quantitative"}, "y": {"field": "r", "type": "quantitative"}}
                },
                {
                  "data": {"values": [{"c": 6.02, "m": "L"}, {"c": 8.75, "m": "R"}]},
                  "mark": {"type": "rule", "strokeWidth": 1.6},
                  "encoding": {"x": {"field": "c", "type": "quantitative"}, "color": {"field": "m", "type": "nominal", "scale": {"domain": ["L", "R"], "range": ["#2a4444", "#34507a"]}, "legend": null}}
                }
              ]
            },
            {
              "width": 180, "height": 107,
              "view": {"fill": "#d9d9d9", "stroke": "#585858", "strokeWidth": 2},
              "data": {"values": [{"i": 0, "s": "L = 6.02 сек."}, {"i": 1, "s": "T = 2.73 сек."}, {"i": 2, "s": "A = 0.985 мВ"}, {"i": 3, "s": "S = 0.78 мВ*сек."}]},
              "mark": {"type": "text", "align": "left", "baseline": "middle", "dx": 4, "font": "Liberation Sans, Arial, sans-serif", "fontSize": 14, "color": "#3c4448"},
              "encoding": {
                "x": {"datum": 0, "type": "quantitative", "scale": {"domain": [0, 1], "nice": false, "zero": false}, "axis": null},
                "y": {"field": "i", "type": "quantitative", "scale": {"domain": [-0.759, 6.621], "reverse": true, "nice": false, "zero": false}, "axis": null},
                "text": {"field": "s"}
              }
            }
          ]
        },
        {
          "spacing": 2,
          "bounds": "flush",
          "hconcat": [
            {
              "width": 740, "height": 107,
              "view": {"fill": "#c6fafa", "stroke": "#3c6e6e", "strokeWidth": 2},
              "data": {"name": "m3"},
              "layer": [
                {
                  "mark": {"type": "line", "color": "#3a4646", "strokeWidth": 1.8, "clip": true},
                  "encoding": {
                    "x": {"field": "t", "type": "quantitative", "scale": {"domain": [-1.706, 20.25], "nice": false, "zero": false},
                      "axis": {"title": null, "values": [1,2,3,4,5,6,7,8,9,10,11,12,13,14,15,16,17,18,19], "grid": true, "gridColor": "#8fb3b6", "gridDash": [3, 3], "labels": false, "ticks": false, "domain": false}},
                    "y": {"field": "k", "type": "quantitative", "scale": {"domain": [-0.1, 2.0], "nice": false, "zero": false},
                      "axis": {"title": "мВ", "titleAngle": 0, "titleAlign": "left", "titleBaseline": "middle", "titleX": 9, "titleY": 13, "titleFontSize": 12, "titleFontWeight": "normal", "titleColor": "#2e5a5e",
                        "offset": -56, "domainColor": "#3c6e6e", "domainWidth": 2, "ticks": false, "tickSize": 0, "grid": false,
                        "values": [0.12, 0.56, 1.73], "labelExpr": "datum.value > 1 ? '2' : datum.value > 0.4 ? 'Mio3' : '0'",
                        "labelAlign": {"condition": {"test": "datum.value > 1", "value": "right"}, "value": "left"},
                        "labelPadding": {"condition": {"test": "datum.value > 1", "value": 17}, "value": 55},
                        "labelBaseline": "middle", "labelFontSize": 14, "labelColor": "#2e5a5e", "labelOverlap": false, "labelFlush": false}}
                  }
                },
                {
                  "mark": {"type": "line", "color": "#e8262a", "strokeWidth": 1.4, "clip": true},
                  "encoding": {"x": {"field": "t", "type": "quantitative"}, "y": {"field": "r", "type": "quantitative"}}
                }
              ]
            },
            {
              "width": 180, "height": 107,
              "view": {"fill": "#d9d9d9", "stroke": "#585858", "strokeWidth": 2},
              "data": {"values": []},
              "mark": "text"
            }
          ]
        },
        {
          "spacing": 2,
          "bounds": "flush",
          "hconcat": [
            {
              "width": 740, "height": 107,
              "view": {"fill": "#c6fafa", "stroke": "#3c6e6e", "strokeWidth": 2},
              "layer": [
                {
                  "data": {"name": "m4"},
                  "mark": {"type": "line", "color": "#3a4646", "strokeWidth": 1.8, "clip": true},
                  "encoding": {
                    "x": {"field": "t", "type": "quantitative", "scale": {"domain": [-1.706, 20.25], "nice": false, "zero": false},
                      "axis": {"title": null, "values": [1,2,3,4,5,6,7,8,9,10,11,12,13,14,15,16,17,18,19], "grid": true, "gridColor": "#8fb3b6", "gridDash": [3, 3], "labels": false, "ticks": false, "domain": false}},
                    "y": {"field": "k", "type": "quantitative", "scale": {"domain": [-0.1, 2.0], "nice": false, "zero": false},
                      "axis": {"title": "мВ", "titleAngle": 0, "titleAlign": "left", "titleBaseline": "middle", "titleX": 9, "titleY": 13, "titleFontSize": 12, "titleFontWeight": "normal", "titleColor": "#2e5a5e",
                        "offset": -56, "domainColor": "#3c6e6e", "domainWidth": 2, "ticks": false, "tickSize": 0, "grid": false,
                        "values": [0.12, 0.56, 1.73], "labelExpr": "datum.value > 1 ? '2' : datum.value > 0.4 ? 'Mio4' : '0'",
                        "labelAlign": {"condition": {"test": "datum.value > 1", "value": "right"}, "value": "left"},
                        "labelPadding": {"condition": {"test": "datum.value > 1", "value": 17}, "value": 55},
                        "labelBaseline": "middle", "labelFontSize": 14, "labelColor": "#2e5a5e", "labelOverlap": false, "labelFlush": false}}
                  }
                },
                {
                  "data": {"name": "m4"},
                  "mark": {"type": "line", "color": "#e8262a", "strokeWidth": 1.4, "clip": true},
                  "encoding": {"x": {"field": "t", "type": "quantitative"}, "y": {"field": "r", "type": "quantitative"}}
                },
                {
                  "data": {"values": [{"c": 6.25, "m": "L"}, {"c": 8.79, "m": "R"}]},
                  "mark": {"type": "rule", "strokeWidth": 1.6},
                  "encoding": {"x": {"field": "c", "type": "quantitative"}, "color": {"field": "m", "type": "nominal", "scale": {"domain": ["L", "R"], "range": ["#4a68d0", "#2c4a4a"]}, "legend": null}}
                }
              ]
            },
            {
              "width": 180, "height": 107,
              "view": {"fill": "#d9d9d9", "stroke": "#585858", "strokeWidth": 2},
              "data": {"values": [{"i": 0, "s": "L = 6.25 сек."}, {"i": 1, "s": "T = 2.54 сек."}, {"i": 2, "s": "A = 0.765 мВ"}, {"i": 3, "s": "S = 0.70 мВ*сек."}]},
              "mark": {"type": "text", "align": "left", "baseline": "middle", "dx": 4, "font": "Liberation Sans, Arial, sans-serif", "fontSize": 14, "color": "#3c4448"},
              "encoding": {
                "x": {"datum": 0, "type": "quantitative", "scale": {"domain": [0, 1], "nice": false, "zero": false}, "axis": null},
                "y": {"field": "i", "type": "quantitative", "scale": {"domain": [-0.759, 6.621], "reverse": true, "nice": false, "zero": false}, "axis": null},
                "text": {"field": "s"}
              }
            }
          ]
        }
      ]
    }
  ]
}
